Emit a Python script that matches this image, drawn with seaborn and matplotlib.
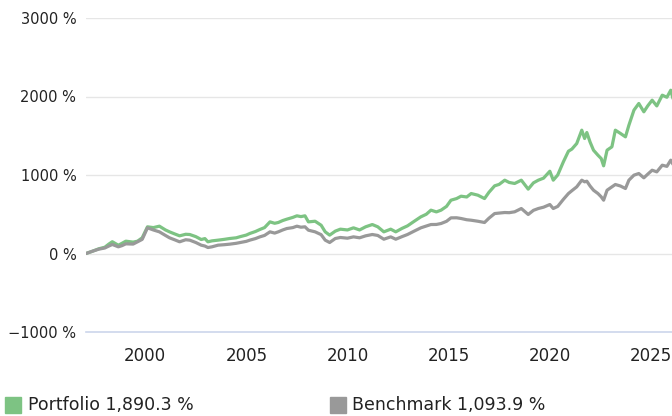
import matplotlib
matplotlib.use('Agg')
import matplotlib.pyplot as plt
from matplotlib.patches import Rectangle
import seaborn as sns
import pandas as pd

# values (cumulative return in %)
years = [1997.07, 1997.4, 1997.7, 1998.0, 1998.2, 1998.37, 1998.67, 1998.85, 1999.04, 1999.4,
         1999.62, 1999.85, 2000.11, 2000.4, 2000.7, 2001.0, 2001.2, 2001.45, 2001.7, 2002.0,
         2002.2, 2002.5, 2002.77, 2002.95, 2003.1, 2003.3, 2003.6, 2003.9, 2004.18, 2004.5,
         2004.7, 2005.0, 2005.17, 2005.45, 2005.67, 2005.9, 2006.17, 2006.4, 2006.58, 2006.8,
         2007.0, 2007.3, 2007.5, 2007.7, 2007.9, 2008.07, 2008.4, 2008.7, 2008.9, 2009.12,
         2009.4, 2009.65, 2010.0, 2010.3, 2010.6, 2010.9, 2011.23, 2011.5, 2011.8, 2012.14,
         2012.39, 2012.7, 2012.97, 2013.3, 2013.63, 2013.9, 2014.13, 2014.4, 2014.63, 2014.9,
         2015.12, 2015.4, 2015.62, 2015.9, 2016.12, 2016.45, 2016.78, 2017.0, 2017.28, 2017.5,
         2017.78, 2018.0, 2018.27, 2018.6, 2018.94, 2019.2, 2019.44, 2019.7, 2020.01, 2020.18,
         2020.4, 2020.68, 2020.93, 2021.1, 2021.34, 2021.59, 2021.73, 2021.84, 2022.0, 2022.17,
         2022.39, 2022.55, 2022.67, 2022.84, 2023.08, 2023.25, 2023.5, 2023.75, 2023.92, 2024.17,
         2024.41, 2024.66, 2024.85, 2025.07, 2025.3, 2025.57, 2025.8, 2025.99, 2026.19]
portfolio = [0, 30, 60, 80, 120, 150, 105, 130, 157, 145,
             157, 200, 340, 330, 348, 300, 276, 250, 225, 245,
             242, 215, 178, 190, 149, 161, 170, 180, 191, 200,
             215, 235, 255, 280, 306, 330, 403, 385, 395, 420,
             437, 460, 480, 470, 480, 403, 411, 360, 276, 234,
             285, 310, 300, 327, 300, 340, 369, 340, 276, 310,
             276, 320, 352, 410, 467, 500, 552, 530, 552, 600,
             679, 700, 730, 720, 764, 743, 700, 780, 862, 880,
             934, 905, 892, 934, 820, 900, 934, 960, 1048, 934,
             1000, 1168, 1303, 1330, 1401, 1571, 1465, 1541, 1420, 1316,
             1252, 1210, 1117, 1316, 1359, 1571, 1530, 1486, 1634, 1826,
             1911, 1805, 1880, 1953, 1880, 2017, 1990, 2080, 1890]
benchmark = [0, 30, 55, 70, 95, 115, 85, 100, 123, 120,
             149, 180, 327, 300, 276, 230, 200, 175, 149, 175,
             170, 140, 106, 95, 76, 85, 106, 112, 119, 130,
             140, 155, 170, 190, 212, 230, 276, 260, 276, 300,
             318, 330, 348, 335, 340, 297, 276, 240, 170, 140,
             191, 204, 195, 212, 200, 225, 242, 230, 182, 212,
             182, 215, 242, 285, 327, 350, 369, 370, 382, 410,
             454, 455, 446, 430, 424, 411, 395, 450, 509, 515,
             522, 520, 531, 573, 497, 550, 573, 590, 624, 573,
             600, 690, 764, 800, 849, 934, 913, 921, 860, 806,
             764, 722, 679, 806, 849, 879, 860, 828, 934, 998,
             1019, 964, 1010, 1061, 1040, 1125, 1110, 1189, 1094]
portfolio_total = 1890.3
benchmark_total = 1093.9

green = '#7dc383'
grey = '#999999'

df = pd.DataFrame({'year': years * 2,
                   'value': portfolio + benchmark,
                   'series': ['Portfolio'] * len(years) + ['Benchmark'] * len(years)})

sns.set_style('white')
plt.rcParams['font.family'] = ['DejaVu Sans']

fig = plt.figure(figsize=(6.72, 4.16), dpi=100)
ax = fig.add_axes([86 / 672, 84 / 416, 590 / 672, 314 / 416])

sns.lineplot(data=df, x='year', y='value', hue='series',
             palette={'Portfolio': green, 'Benchmark': grey},
             linewidth=2.3, legend=False, ax=ax)

ax.set_xlim(1997.07, 2026.25)
ax.set_ylim(-1000, 3000)
ax.set_xlabel('')
ax.set_ylabel('')

yticks = [-1000, 0, 1000, 2000, 3000]
ax.set_yticks(yticks)
ax.set_yticklabels([f'{v} %'.replace('-', '\u2212') for v in yticks], fontsize=10.5, color='#222222')
for v in yticks[1:]:
    ax.axhline(v, color='#e6e6e6', linewidth=1, zorder=0)

xticks = [2000, 2005, 2010, 2015, 2020, 2025]
ax.set_xticks(xticks)
ax.set_xticklabels([str(x) for x in xticks], fontsize=12, color='#222222')

for s in ['top', 'right', 'left']:
    ax.spines[s].set_visible(False)
ax.spines['bottom'].set_color('#ccd6eb')
ax.spines['bottom'].set_linewidth(1.2)
ax.tick_params(axis='x', length=7.5, width=1, color='#ccd6eb', pad=3, direction='out')
ax.tick_params(axis='y', length=0, pad=7)

# legend at the bottom
fig.add_artist(Rectangle((5 / 672, 3 / 416), 16 / 672, 16 / 416, color=green,
                         transform=fig.transFigure))
fig.text(28 / 672, 2 / 416, f'Portfolio {portfolio_total:,.1f} %', fontsize=12.5,
         color='#222222', va='bottom')
fig.add_artist(Rectangle((330 / 672, 3 / 416), 16 / 672, 16 / 416, color=grey,
                         transform=fig.transFigure))
fig.text(352 / 672, 2 / 416, f'Benchmark {benchmark_total:,.1f} %', fontsize=12.5,
         color='#222222', va='bottom')

fig.savefig('out.png', dpi=100)
